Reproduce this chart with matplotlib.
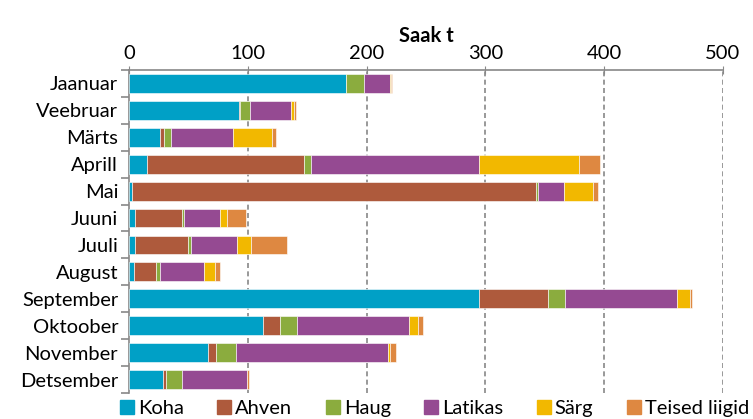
import matplotlib.pyplot as plt
import matplotlib
import numpy as np
from matplotlib.ticker import FixedLocator

plt.rcParams["font.family"] = ["Lato", "DejaVu Sans"]

months = ["Jaanuar", "Veebruar", "Märts", "Aprill", "Mai", "Juuni",
          "Juuli", "August", "September", "Oktoober", "November", "Detsember"]

species = ["Koha", "Ahven", "Haug", "Latikas", "Särg", "Teised liigid"]
colors = ["#00a0c6", "#ae5a3c", "#8bac3e", "#954a92", "#f2b800", "#de8841"]

koha = [182.5, 92.5, 26, 15, 2, 5, 5, 4, 295, 112.5, 66.5, 28]
ahven = [0.3, 0.8, 3, 132, 341, 39, 44.5, 18.5, 58, 14.5, 6.5, 3]
haug = [15, 8.5, 6.5, 6.5, 1.5, 2, 2.5, 3, 14, 14, 16.5, 13]
latikas = [22, 34.8, 52, 141.5, 21.5, 30.5, 39, 37.5, 94.5, 94.5, 128.5, 55]
sarg = [0.3, 2, 33, 84, 24.5, 6, 11.5, 9.5, 11, 7.5, 2, 0.5]
teised = [1.5, 1.7, 3, 17.5, 4.5, 16, 30, 4, 1.6, 4.5, 5, 1]

series = [koha, ahven, haug, latikas, sarg, teised]

fs = 14.5

fig = plt.figure(figsize=(7.53, 4.19), dpi=100)
ax = fig.add_axes([0.1717, 0.062, 0.7881, 0.771])

y = np.arange(len(months))
left = np.zeros(len(months))
for name, vals, c in zip(species, series, colors):
    ax.barh(y, vals, left=left, height=0.7, color=c, label=name,
            edgecolor="white", linewidth=0.4, zorder=3)
    left += np.array(vals)

ax.set_xlim(0, 500)
ax.set_ylim(len(months) - 0.5, -0.5)

ax.xaxis.tick_top()
ax.xaxis.set_label_position("top")
ax.set_xticks([0, 100, 200, 300, 400, 500])
ax.set_xlabel("Saak t", fontsize=fs, fontweight="bold", labelpad=2)
ax.tick_params(axis="x", direction="inout", length=6, color="#888888",
               labelsize=fs, pad=3)

ax.set_yticks(y)
ax.set_yticklabels(months, fontsize=fs)
ax.tick_params(axis="y", which="major", length=0, pad=8)
ax.yaxis.set_minor_locator(FixedLocator(np.arange(-0.5, len(months), 1)))
ax.tick_params(axis="y", which="minor", length=6, color="#888888", width=1.2)

for s in ["right", "bottom"]:
    ax.spines[s].set_visible(False)
for s in ["top", "left"]:
    ax.spines[s].set_color("#888888")
    ax.spines[s].set_linewidth(1.2)

for xv in [100, 200, 300, 400, 500]:
    ax.axvline(xv, color="#888888", linestyle=(0, (3, 2)), linewidth=1.2,
               zorder=1)

handles = [plt.Line2D([], [], marker="s", linestyle="", color=c,
                      markersize=10) for c in colors]
fig.legend(handles, species, loc="center", ncol=6,
           bbox_to_anchor=(0.575, 0.025), frameon=False, fontsize=fs,
           handletextpad=0.05, columnspacing=1.5, handlelength=1.0,
           borderpad=0)

fig.savefig("out.png", dpi=100)
